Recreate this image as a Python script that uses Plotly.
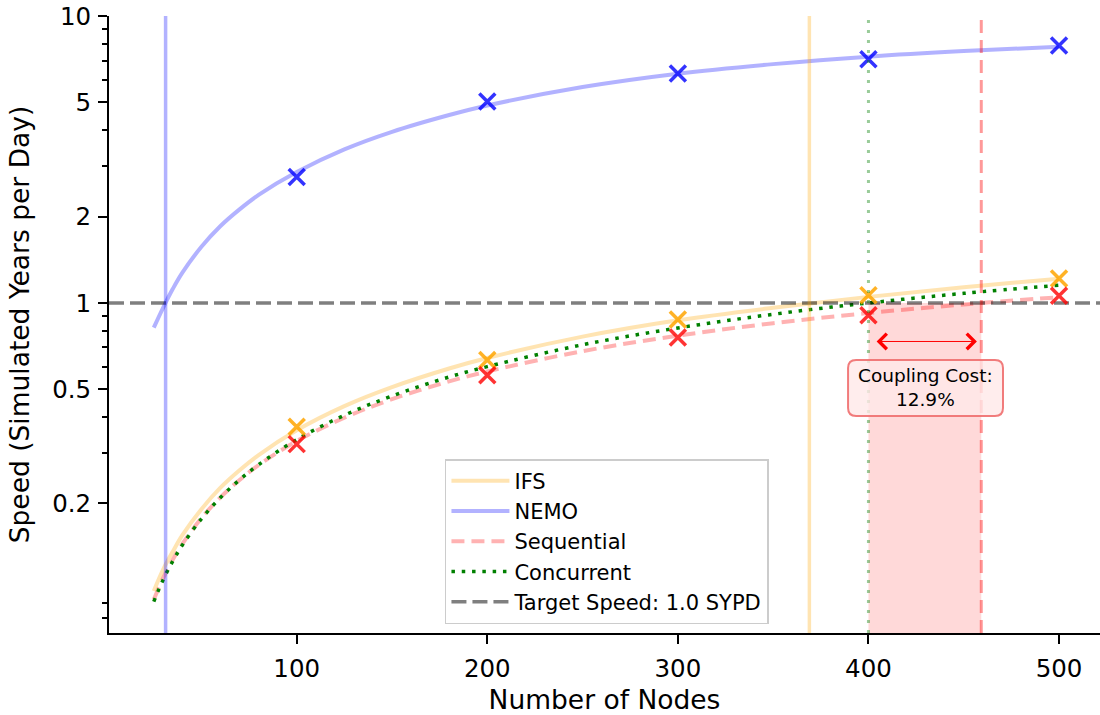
import math
import plotly.graph_objects as go

# ---------------- data ----------------
curve_nodes = [25, 30, 35, 40, 50, 60, 70, 80, 100, 125, 150, 180, 200, 250, 300, 350, 400, 450, 500]
ifs_curve = [0.099, 0.118, 0.136, 0.155, 0.191, 0.227, 0.261, 0.295, 0.36, 0.437, 0.509, 0.591, 0.643,
             0.763, 0.870, 0.962, 1.05, 1.135, 1.215]
nemo_curve = [0.82, 0.965, 1.12, 1.275, 1.57, 1.855, 2.12, 2.38, 2.86, 3.43, 3.95, 4.52, 4.88,
              5.66, 6.30, 6.80, 7.22, 7.55, 7.82]
seq_curve = [0.0925, 0.110, 0.1274, 0.1445, 0.1778, 0.210, 0.2414, 0.272, 0.330, 0.398, 0.462, 0.533, 0.577,
             0.679, 0.769, 0.850, 0.922, 0.988, 1.047]
conc_curve = [0.091, 0.1087, 0.126, 0.1432, 0.1768, 0.2097, 0.2418, 0.273, 0.334, 0.406, 0.474, 0.552, 0.600,
              0.715, 0.818, 0.913, 1.0, 1.080, 1.153]

measured_nodes = [100, 200, 300, 400, 500]
ifs_measured = [0.370, 0.632, 0.875, 1.064, 1.216]
nemo_measured = [2.75, 5.04, 6.31, 7.07, 7.9]
seq_measured = [0.322, 0.560, 0.758, 0.906, 1.06]

target_speed = 1.0
nemo_cross = 31.2
ifs_cross = 369.0
conc_cross = 400.0
seq_cross = 459.2
arrow_speed = 0.734

x_range = [1.5, 521.5]
y_min, y_max = 0.0707, 10.0
y_tickvals = [0.2, 0.5, 1, 2, 5, 10]
y_ticktext = ["0.2", "0.5", "1", "2", "5", "10"]
y_minor = [0.08, 0.09, 0.3, 0.4, 0.6, 0.7, 0.8, 0.9, 3, 4, 6, 7, 8, 9]
x_tickvals = [100, 200, 300, 400, 500]

FONT = "DejaVu Sans"

fig = go.Figure()

# shaded coupling-cost region
fig.add_trace(go.Scatter(
    x=[conc_cross, seq_cross, seq_cross, conc_cross, conc_cross],
    y=[y_min, y_min, target_speed, target_speed, y_min],
    fill="toself", fillcolor="rgba(255,0,0,0.15)", mode="lines",
    line=dict(width=0), showlegend=False, hoverinfo="skip"))

# fitted curves
fig.add_trace(go.Scatter(x=curve_nodes, y=ifs_curve, mode="lines", name="IFS",
                         line=dict(color="rgba(255,165,0,0.3)", width=4, shape="spline"),
                         legendgroup="a"))
fig.add_trace(go.Scatter(x=curve_nodes, y=nemo_curve, mode="lines", name="NEMO",
                         line=dict(color="rgba(0,0,255,0.3)", width=4, shape="spline"),
                         legendgroup="b"))
fig.add_trace(go.Scatter(x=curve_nodes, y=seq_curve, mode="lines", name="Sequential",
                         line=dict(color="rgba(255,0,0,0.3)", width=4, dash="13px,7px", shape="spline"),
                         legendgroup="c"))
fig.add_trace(go.Scatter(x=curve_nodes, y=conc_curve, mode="lines", name="Concurrent",
                         line=dict(color="#008000", width=3.5, dash="3.5px,6.8px", shape="spline"),
                         legendgroup="d"))
fig.add_trace(go.Scatter(x=x_range, y=[target_speed, target_speed], mode="lines",
                         name="Target Speed: 1.0 SYPD",
                         line=dict(color="rgba(0,0,0,0.5)", width=3.5, dash="15px,6px"),
                         legendgroup="e"))

# measured points
for vals, col in [(ifs_measured, "rgba(255,165,0,0.85)"),
                  (nemo_measured, "rgba(0,0,255,0.8)"),
                  (seq_measured, "rgba(255,0,0,0.8)")]:
    fig.add_trace(go.Scatter(x=measured_nodes, y=vals, mode="markers", showlegend=False,
                             marker=dict(symbol="x-thin", size=16,
                                         line=dict(color=col, width=3.5))))

# vertical lines
fig.add_vline(x=nemo_cross, line=dict(color="rgba(0,0,255,0.3)", width=3.5))
fig.add_vline(x=ifs_cross, line=dict(color="rgba(255,165,0,0.3)", width=3.5))
fig.add_vline(x=conc_cross, line=dict(color="rgba(0,128,0,0.4)", width=3, dash="3px,7px"))
fig.add_vline(x=seq_cross, line=dict(color="rgba(255,0,0,0.4)", width=3, dash="13px,7px"))

# double arrow
fig.add_annotation(x=seq_cross - 2.3, y=math.log10(arrow_speed), ax=conc_cross + 3.5,
                   ay=math.log10(arrow_speed), xref="x", yref="y", axref="x", ayref="y",
                   text="", showarrow=True, arrowside="end+start", arrowhead=4, startarrowhead=4,
                   arrowsize=3, startarrowsize=3, arrowwidth=1, arrowcolor="red", standoff=0,
                   startstandoff=0)

# coupling cost text box (rounded)
bx0, bx1 = 389.3, 470.6
by0, by1 = 0.3517, 0.4425
rx, ry = 4.2, 0.0130
path = (f"M{bx0+rx},{by0} L{bx1-rx},{by0} Q{bx1},{by0} {bx1},{by0+ry} "
        f"L{bx1},{by1-ry} Q{bx1},{by1} {bx1-rx},{by1} L{bx0+rx},{by1} "
        f"Q{bx0},{by1} {bx0},{by1-ry} L{bx0},{by0+ry} Q{bx0},{by0} {bx0+rx},{by0} Z")
fig.add_shape(type="path", path=path, xref="x", yref="paper",
              fillcolor="rgba(255,232,232,0.8)", line=dict(color="rgba(240,110,110,0.9)", width=2))
cost = (seq_cross - conc_cross) / seq_cross * 100
fig.add_annotation(x=(bx0 + bx1) / 2, y=(by0 + by1) / 2, xref="x", yref="paper",
                   text=f"Coupling Cost:<br>{cost:.1f}%", showarrow=False,
                   font=dict(family=FONT, size=18.5, color="black"))

fig.update_layout(
    width=1100, height=715,
    margin=dict(l=109, r=0, t=16, b=82, autoexpand=False),
    paper_bgcolor="white", plot_bgcolor="white",
    font=dict(family=FONT, color="black"),
    legend=dict(x=0.339, y=0.282, xanchor="left", yanchor="top",
                font=dict(family=FONT, size=21), bgcolor="rgba(255,255,255,0.8)",
                bordercolor="#cccccc", borderwidth=1.5, itemwidth=58,
                tracegroupgap=0),
    xaxis=dict(range=x_range, tickvals=x_tickvals, showgrid=False, zeroline=False,
               automargin=False,
               showline=True, linecolor="black", linewidth=2, ticks="outside",
               ticklen=9, tickwidth=2, tickcolor="black", ticklabelstandoff=4,
               tickfont=dict(family=FONT, size=24.5),
               title=dict(text="Number of Nodes", font=dict(family=FONT, size=26.5), standoff=10)),
    yaxis=dict(type="log", range=[math.log10(y_min), math.log10(y_max) + 0.0003],
               automargin=False,
               tickvals=y_tickvals, ticktext=y_ticktext, showgrid=False, zeroline=False,
               showline=True, linecolor="black", linewidth=2, ticks="outside",
               ticklen=9, tickwidth=2, tickcolor="black", ticklabelstandoff=2,
               tickfont=dict(family=FONT, size=24.5),
               minor=dict(tickvals=y_minor, ticks="outside", ticklen=5, tickwidth=1.5,
                          tickcolor="black", showgrid=False),
               title=dict(text="Speed (Simulated Years per Day)",
                          font=dict(family=FONT, size=26.5), standoff=15)),
)

fig.write_html("out.html", config={"displayModeBar": False},
               post_script="document.body.style.margin='0';document.body.style.overflow='hidden';")
